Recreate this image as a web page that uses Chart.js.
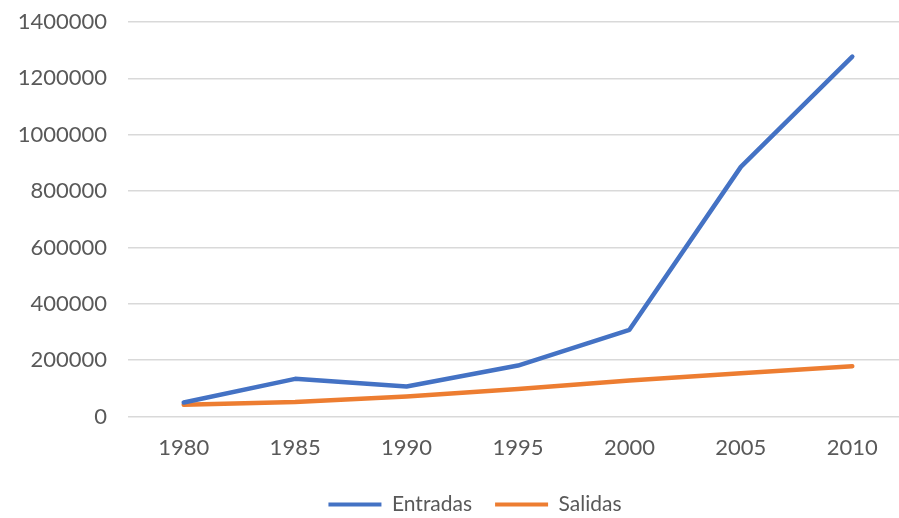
<!DOCTYPE html>
<html>
<head>
<meta charset="utf-8">
<title>Entradas y Salidas</title>
<script src="https://cdn.jsdelivr.net/npm/chart.js@4.4.1/dist/chart.umd.min.js"></script>
<style>
  html, body { margin: 0; padding: 0; background: #fff; }
  #wrap { width: 899px; height: 518px; overflow: hidden; }
</style>
</head>
<body>
<!-- canvas is a bit larger than the frame; the plot runs off the right edge -->
<div id="wrap"><canvas id="myChart" width="908" height="525"></canvas></div>
<script>
// years on the x axis
const years = ['1980', '1985', '1990', '1995', '2000', '2005', '2010'];

// series
const entradas = [50000, 134000, 107000, 181000, 308000, 886000, 1277000];
const salidas = [42000, 52000, 71000, 98000, 128000, 154000, 179000];

// y axis ticks
const yMin = 0;
const yMax = 1400000;
const yStep = 200000;

const BLUE = '#4472C4';
const ORANGE = '#ED7D31';
const TEXT = '#595959';
const GRID = '#d9d9d9';

Chart.defaults.font.family = 'Lato, "Open Sans", sans-serif';
Chart.defaults.color = TEXT;

// nudge the legend a little to the right of the canvas centre
const legendShift = {
    id: 'legendShift',
    afterLayout(chart) {
        const lg = chart.legend;
        if (!lg) return;
        lg.left += 12;
        lg.right += 12;
    }
};

const ctx = document.getElementById('myChart').getContext('2d');
const chart = new Chart(ctx, {
    type: 'line',
    data: {
        labels: years,
        datasets: [
            {
                label: 'Entradas',
                data: entradas,
                borderColor: BLUE,
                backgroundColor: BLUE,
                borderWidth: 4.5,
                pointRadius: 0,
                borderCapStyle: 'round',
                borderJoinStyle: 'round',
                tension: 0
            },
            {
                label: 'Salidas',
                data: salidas,
                borderColor: ORANGE,
                backgroundColor: ORANGE,
                borderWidth: 4.5,
                pointRadius: 0,
                borderCapStyle: 'round',
                borderJoinStyle: 'round',
                tension: 0
            }
        ]
    },
    plugins: [legendShift],
    options: {
        responsive: false,
        animation: false,
        layout: {
            padding: { top: 22, right: 0, left: 18, bottom: 0 }
        },
        plugins: {
            tooltip: { enabled: false },
            legend: {
                position: 'bottom',
                labels: {
                    boxWidth: 53,
                    boxHeight: 4,
                    padding: 23,
                    font: { size: 21 },
                    color: TEXT,
                    generateLabels(chart) {
                        return chart.data.datasets.map((ds, i) => ({
                            text: ds.label,
                            fillStyle: ds.borderColor,
                            strokeStyle: ds.borderColor,
                            lineWidth: 0,
                            fontColor: TEXT,
                            hidden: false,
                            datasetIndex: i
                        }));
                    }
                }
            }
        },
        scales: {
            x: {
                offset: true,
                grid: { display: false },
                border: { display: false },
                ticks: {
                    font: { size: 22 },
                    color: TEXT,
                    padding: 10
                }
            },
            y: {
                min: yMin,
                max: yMax,
                border: { display: false },
                grid: {
                    color: GRID,
                    lineWidth: 1.5,
                    drawTicks: false
                },
                ticks: {
                    stepSize: yStep,
                    font: { size: 22 },
                    color: TEXT,
                    padding: 21,
                    callback: v => String(v)
                },
                afterFit(scale) {
                    scale.width = 110;
                    // keep the label gap from pushing the plot down
                    scale.paddingTop = 0;
                    scale.paddingBottom = 0;
                }
            }
        }
    }
});
console.log("Loaded", chart.chartArea);
</script>
</body>
</html>
